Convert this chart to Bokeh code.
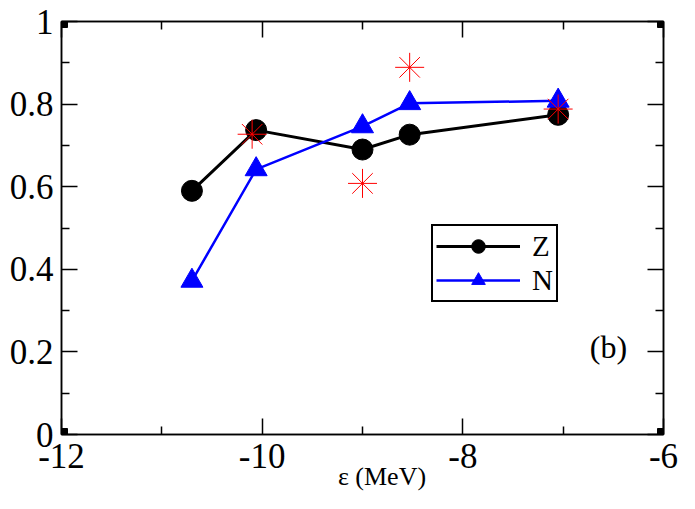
from bokeh.plotting import figure
from bokeh.models import LinearAxis, Range1d, FixedTicker, Legend, LegendItem, Label
from bokeh.embed import file_html
from bokeh.resources import INLINE

# ---- data ----
x_vals = [-10.70, -10.06, -9.00, -8.53, -7.05]
z_vals = [0.590, 0.737, 0.690, 0.726, 0.774]
n_vals = [0.372, 0.642, 0.746, 0.802, 0.808]
star_x = [-10.10, -9.00, -8.53, -7.05]
star_y = [0.727, 0.608, 0.889, 0.788]

x_ticks = [-12, -10, -8, -6]
x_tick_labels = ["-12", "-10", "-8", "-6"]
y_ticks = [0, 0.2, 0.4, 0.6, 0.8, 1.0]
y_tick_labels = ["0", "0.2", "0.4", "0.6", "0.8", "1"]
x_limits = (-12, -6)
y_limits = (0, 1)
series_names = ["Z", "N"]
panel_tag = "(b)"
x_title = "ε (MeV)"

FONT = "Liberation Serif"

p = figure(width=679, height=493, output_backend="svg", toolbar_location=None,
           x_range=Range1d(*x_limits), y_range=Range1d(*y_limits),
           x_axis_location=None, y_axis_location=None,
           min_border_left=61, min_border_right=16, min_border_top=21, min_border_bottom=59)
p.grid.visible = False
p.outline_line_color = "black"
p.outline_line_width = 1.5
p.background_fill_color = "white"
p.border_fill_color = "white"

x_minor = [(a + b) / 2 for a, b in zip(x_ticks[:-1], x_ticks[1:])]
y_minor = [(a + b) / 2 for a, b in zip(y_ticks[:-1], y_ticks[1:])]


def style_axis(ax, labels, show):
    ax.axis_line_width = 1.5
    ax.major_tick_in = 16
    ax.major_tick_out = 0
    ax.minor_tick_in = 8
    ax.minor_tick_out = 0
    ax.major_tick_line_width = 1.5
    ax.minor_tick_line_width = 1.5
    if show:
        ax.major_label_overrides = labels
        ax.major_label_text_font = FONT
        ax.major_label_text_font_size = "35px"
        ax.major_label_text_color = "black"
    else:
        ax.major_label_text_font_size = "0px"
        ax.major_label_text_color = None
        ax.major_label_standoff = 0


xl = {t: s for t, s in zip(x_ticks, x_tick_labels)}
yl = {t: s for t, s in zip(y_ticks, y_tick_labels)}

bottom = LinearAxis(ticker=FixedTicker(ticks=x_ticks, minor_ticks=x_minor))
style_axis(bottom, xl, True)
bottom.major_label_standoff = 9
# leading no-break spaces shift the centred title right, as in the reference
bottom.axis_label = "\u00a0" * 6 + x_title
bottom.axis_label_text_font = FONT
bottom.axis_label_text_font_size = "26px"
bottom.axis_label_text_font_style = "normal"
bottom.axis_label_text_color = "black"
bottom.axis_label_standoff = -9
p.add_layout(bottom, "below")

left = LinearAxis(ticker=FixedTicker(ticks=y_ticks, minor_ticks=y_minor))
style_axis(left, yl, True)
left.major_label_standoff = 8
p.add_layout(left, "left")

top = LinearAxis(ticker=FixedTicker(ticks=x_ticks, minor_ticks=x_minor))
style_axis(top, xl, False)
p.add_layout(top, "above")

right = LinearAxis(ticker=FixedTicker(ticks=y_ticks, minor_ticks=y_minor))
style_axis(right, yl, False)
p.add_layout(right, "right")

# corner squares of the frame
p.scatter([x_limits[0], x_limits[1], x_limits[0], x_limits[1]],
          [y_limits[0], y_limits[0], y_limits[1], y_limits[1]],
          marker="square", size=12, color="black")

zl = p.line(x_vals, z_vals, line_color="black", line_width=3)
zs = p.scatter(x_vals, z_vals, marker="circle", size=21, fill_color="black", line_color="black")
nl = p.line(x_vals, n_vals, line_color="blue", line_width=2.5)
ns = p.scatter(x_vals, n_vals, marker="triangle", size=22, fill_color="blue", line_color="blue")
p.scatter(star_x, star_y, marker="asterisk", size=29, line_color="red", line_width=1)

legend = Legend(items=[LegendItem(label=series_names[0], renderers=[zl, zs]),
                       LegendItem(label=series_names[1], renderers=[nl, ns])],
                location=(370, 132))
legend.border_line_color = "black"
legend.border_line_alpha = 1
legend.border_line_width = 2
legend.background_fill_color = "white"
legend.background_fill_alpha = 1
legend.padding = 3
legend.spacing = -4
legend.margin = 0
legend.glyph_width = 84
legend.glyph_height = 34
legend.label_standoff = 12
legend.label_text_font = FONT
legend.label_text_font_size = "29px"
legend.label_text_color = "black"
legend.label_height = 28
p.add_layout(legend)

p.add_layout(Label(x=-6.548, y=0.213, text=panel_tag, text_font=FONT, text_font_size="32px",
                   text_color="black", text_align="center", text_baseline="middle"))

open("out.html", "w").write(file_html(p, INLINE))
